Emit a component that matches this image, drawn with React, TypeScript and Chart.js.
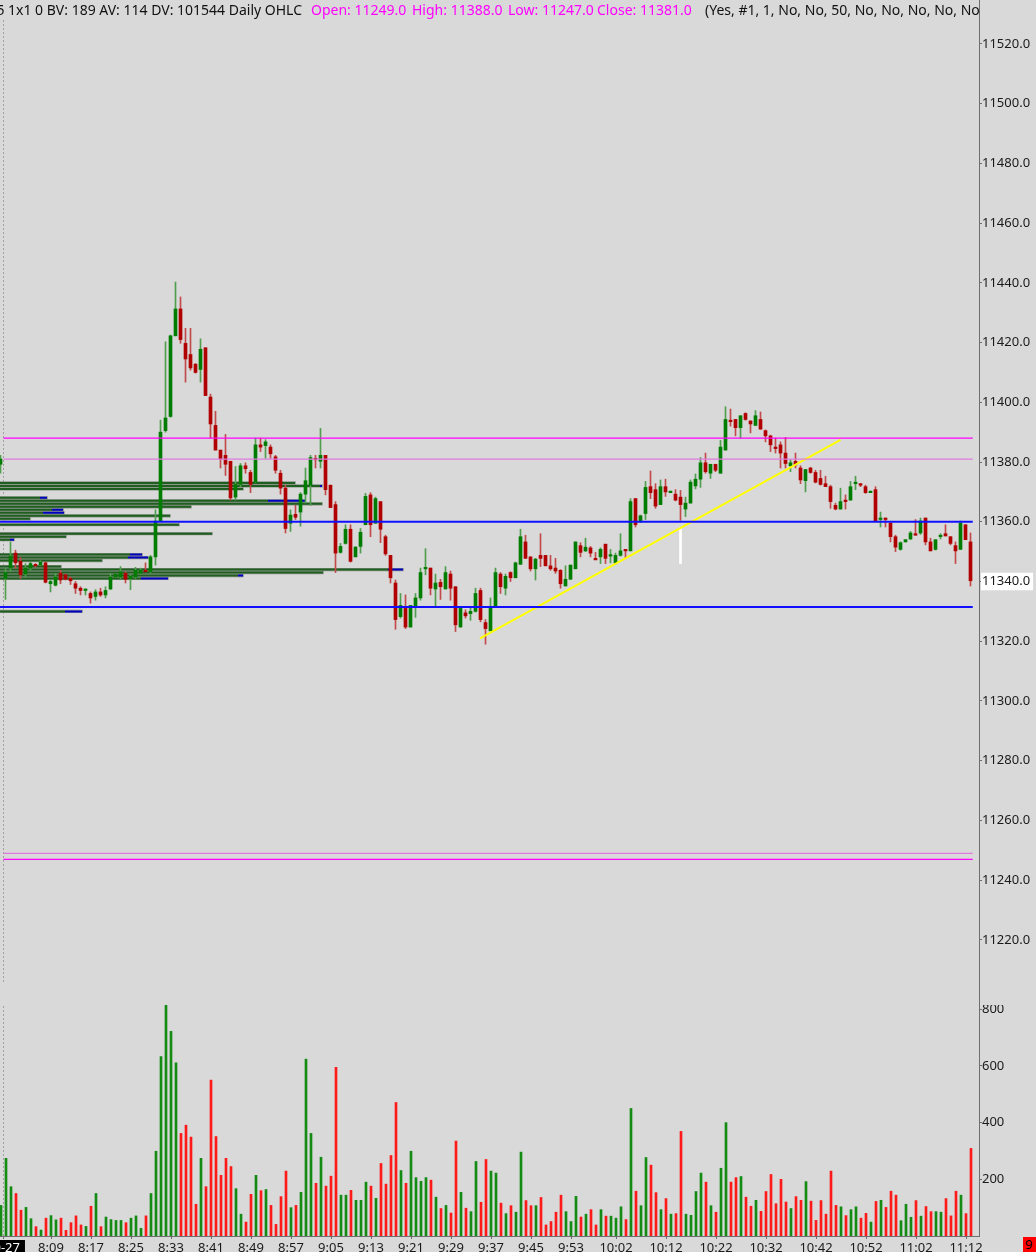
import React, { useEffect, useRef } from "react";
import { Chart, registerables } from "chart.js";

Chart.register(...registerables);

// One-minute bars. Index 0 = 7:59 (previous session), index 1 = 8:00 (10-27), last = 11:13
const opens = [
  11379.25, 11341, 11344.5, 11349.5, 11346.75, 11342.5, 11344.5, 11345.5, 11345.5, 11346.25,
  11339.25, 11338.75, 11342.75, 11342.25, 11341, 11339.25, 11337.75, 11337, 11336, 11335,
  11336.5, 11335.5, 11337.5, 11341.5, 11341.5, 11342.75, 11341, 11341.5, 11342.75, 11343.75,
  11343.25, 11348.25, 11360.25, 11390.5, 11395.25, 11422.25, 11431.25, 11419.75, 11416, 11412.75,
  11411, 11418.25, 11401.75, 11392.25, 11384, 11382.25, 11380.25, 11368.25, 11372.5, 11378.75,
  11376.5, 11373.25, 11385.75, 11385.5, 11385, 11381.75, 11376.25, 11371.25, 11359.5, 11362.5,
  11363.25, 11369.25, 11372.25, 11381, 11380.25, 11382.25, 11372.25, 11365.75, 11349.75, 11352.75,
  11357.5, 11348.25, 11351.75, 11359, 11369, 11359.5, 11366.75, 11355, 11348.75, 11339.5,
  11328.25, 11331, 11324.75, 11331.25, 11334.5, 11344.25, 11344.5, 11337.5, 11339.75, 11337.5,
  11342.5, 11338.25, 11324.75, 11329.5, 11329.25, 11330, 11337, 11326.25, 11323.5, 11331.5,
  11342.5, 11337.75, 11343, 11341.25, 11345.75, 11353.25, 11348.25, 11344.25, 11348.75, 11348.75,
  11345.25, 11344.5, 11343.75, 11338.5, 11340.75, 11344.25, 11352, 11350.25, 11351.25, 11347.75,
  11348.25, 11352.5, 11348.5, 11346.25, 11348.75, 11350.75, 11350.25, 11367.75, 11360, 11362.75,
  11371.75, 11370.75, 11365.75, 11371.75, 11369.75, 11369.25, 11368.25, 11364.25, 11366.25, 11372,
  11374.25, 11379.75, 11376.25, 11379.25, 11376.25, 11384, 11394, 11394.25, 11391.5, 11396.25,
  11393.75, 11392.25, 11394.25, 11390.5, 11388.75, 11384.75, 11385.75, 11383, 11378.75, 11380.25,
  11378, 11373.75, 11378, 11376.5, 11374.5, 11372.75, 11371.75, 11365.5, 11364.25, 11367.25,
  11367.25, 11372.75, 11372.75, 11371.75, 11369.75, 11370.75, 11360.75, 11361.25, 11359.5, 11355,
  11350.75, 11353.25, 11354.25, 11356, 11356.25, 11361.25, 11353.25, 11350.75, 11355, 11356,
  11355, 11352, 11350.75, 11359, 11353.25,
];

const highs = [
  11382.25, 11344.5, 11353.25, 11350.5, 11348, 11346, 11346.5, 11346, 11347, 11346.5,
  11340.5, 11342.75, 11343.75, 11342.5, 11341.5, 11340, 11338.25, 11337.5, 11336.5, 11337.25,
  11337.75, 11338.25, 11342.75, 11342.5, 11345, 11343.25, 11342.25, 11344.75, 11344.5, 11346.25,
  11348.75, 11364, 11394, 11420.25, 11422.5, 11440.25, 11435.25, 11424.75, 11424.75, 11413,
  11421.25, 11418.25, 11402.75, 11397, 11384, 11389.25, 11380.25, 11378.5, 11379.5, 11379.75,
  11377.25, 11388, 11388, 11387.5, 11385.75, 11382.25, 11377.25, 11372.25, 11364, 11365.5,
  11369.75, 11378, 11382.25, 11382.25, 11391.25, 11382.25, 11372.25, 11366.75, 11352.75, 11359,
  11359, 11351.75, 11357.75, 11369.5, 11369.75, 11368.25, 11366.75, 11355.5, 11348.75, 11340.5,
  11336, 11335.5, 11332, 11336, 11344.5, 11351, 11344.5, 11342.5, 11340.75, 11345,
  11343.5, 11338.25, 11331.5, 11330.5, 11331.5, 11337.75, 11337.75, 11327.25, 11334.5, 11344.5,
  11343, 11342.5, 11343.25, 11346.5, 11357.5, 11355.5, 11348.25, 11347.75, 11356, 11348.75,
  11348.75, 11347.75, 11344, 11345.25, 11345.5, 11353.25, 11353, 11354.5, 11351.75, 11349.75,
  11351.25, 11352.5, 11350.75, 11349.5, 11356, 11350.75, 11367.75, 11367.75, 11362.25, 11373.5,
  11377, 11372.75, 11374, 11374.25, 11370.25, 11370.75, 11370.5, 11368.25, 11374, 11376,
  11381.5, 11383, 11379.25, 11379.25, 11387.25, 11398.5, 11397.75, 11394.25, 11395.5, 11396.5,
  11393.75, 11397.25, 11396.75, 11390.75, 11389, 11388, 11386.75, 11388.25, 11380.75, 11383,
  11378.75, 11377.5, 11378.25, 11377.25, 11377.25, 11375.25, 11372.25, 11366.25, 11371.25, 11369,
  11373.5, 11375.25, 11372.75, 11372.25, 11370.25, 11371.75, 11363.25, 11361.25, 11360, 11355.5,
  11353.25, 11354, 11356.75, 11360.75, 11361.25, 11361.25, 11354.5, 11354, 11356, 11359,
  11355, 11353.25, 11360.25, 11359, 11356.25,
];

const lows = [
  11376.25, 11334, 11343.25, 11344.5, 11341, 11341.5, 11343.75, 11344.75, 11345.25, 11339.5,
  11336.5, 11338.5, 11339.25, 11340.5, 11339, 11336, 11335.5, 11335.5, 11332.75, 11333.75,
  11335, 11334.5, 11337.25, 11341.5, 11341, 11339.5, 11337.25, 11341, 11342.5, 11343.25,
  11342.75, 11345.5, 11360.25, 11390, 11395, 11422.25, 11419.75, 11406.75, 11410.75, 11409.75,
  11406.75, 11402.25, 11388, 11384, 11378, 11375.5, 11367.25, 11367.25, 11371.75, 11376.25,
  11369.75, 11373, 11383.5, 11381.25, 11381.25, 11376.25, 11369.25, 11356.25, 11356.75, 11360.75,
  11358.5, 11366.25, 11365.5, 11378, 11378, 11369, 11364.75, 11343, 11349.5, 11352.5,
  11346.5, 11348.25, 11349.5, 11359, 11355, 11359.5, 11353, 11348.75, 11339.5, 11324,
  11327.75, 11324.25, 11324.75, 11328, 11333.75, 11342.25, 11335.5, 11331.5, 11334, 11337.5,
  11333.75, 11323.25, 11324.75, 11327.75, 11327, 11329.75, 11326.5, 11319, 11323.5, 11331.5,
  11336, 11335.5, 11340, 11341.25, 11345.75, 11347.75, 11343.5, 11340.5, 11345, 11345.25,
  11343.75, 11342.75, 11337.75, 11338.5, 11340.75, 11344.25, 11348.25, 11350, 11348.25, 11347.25,
  11346, 11346, 11346.25, 11345.75, 11348.5, 11347.75, 11350.25, 11358.25, 11359.75, 11360.75,
  11367.75, 11364.5, 11365.75, 11368.5, 11369.75, 11367, 11360.5, 11361.75, 11366.25, 11371,
  11371.5, 11376.25, 11374.5, 11376.75, 11376.25, 11384, 11392, 11388.75, 11388, 11394,
  11389.75, 11392.25, 11391, 11386.75, 11383.5, 11383, 11378, 11378, 11376.75, 11378,
  11372.75, 11370, 11376.25, 11373, 11372.25, 11371.75, 11364.5, 11364, 11364.25, 11364.25,
  11367.25, 11370.75, 11371.75, 11369.5, 11369.75, 11360.25, 11358.25, 11358.25, 11353.25, 11350,
  11350.5, 11353.25, 11354, 11355.5, 11355.75, 11352.25, 11350.25, 11350.5, 11354.25, 11355.25,
  11352.25, 11346, 11350.75, 11354, 11338.5,
];

const closes = [
  11381, 11343, 11348.5, 11346.25, 11342.25, 11344.5, 11346, 11345.25, 11346.5, 11339.75,
  11340, 11341.5, 11340.5, 11340.75, 11340.25, 11337.75, 11337, 11337.5, 11334.5, 11336.5,
  11335.5, 11337, 11341.5, 11342.5, 11343.25, 11340.75, 11341.75, 11343.75, 11343.75, 11343.25,
  11348.25, 11360.25, 11390, 11394.75, 11422.25, 11431.25, 11421, 11414.5, 11411.5, 11410,
  11417.75, 11402.25, 11392.75, 11384, 11381, 11379.25, 11368, 11372.5, 11378.75, 11377.75,
  11372.5, 11385.75, 11385, 11386.75, 11382.75, 11377.25, 11371.25, 11357.75, 11362.25, 11361.5,
  11369.25, 11373.75, 11381.5, 11380.75, 11382.25, 11370.75, 11364.75, 11349.5, 11351.75, 11357.5,
  11346.75, 11351.5, 11356.5, 11368.5, 11359, 11367.75, 11357.5, 11349.25, 11341.25, 11327.25,
  11332, 11324.75, 11332, 11334.5, 11343, 11344.5, 11337.75, 11339.5, 11338.25, 11343,
  11337.75, 11325.5, 11331, 11328.5, 11330, 11336, 11327.25, 11324.25, 11331.25, 11343,
  11338.25, 11341.75, 11341.25, 11346.25, 11355, 11347.75, 11344.25, 11347.5, 11347.75, 11345.25,
  11344.25, 11343.5, 11339.25, 11340.75, 11345.5, 11353.25, 11349.75, 11351.5, 11349.5, 11347.25,
  11350.75, 11347.75, 11348.75, 11348.75, 11350.25, 11350.25, 11366.75, 11359, 11362, 11371.5,
  11369.75, 11365.25, 11371.75, 11370, 11370.25, 11367.25, 11365.75, 11366.25, 11373.25, 11374.25,
  11379.75, 11376.75, 11379.25, 11377.25, 11385, 11394.25, 11393.5, 11391.5, 11395.5, 11394.25,
  11392.75, 11395.5, 11391, 11388.75, 11385.75, 11384.5, 11383, 11379.5, 11379.75, 11379,
  11374, 11377.5, 11376.5, 11373.25, 11372.5, 11371.75, 11366.75, 11364.25, 11366.75, 11366.75,
  11371.75, 11373.25, 11372.25, 11369.75, 11370.25, 11360.25, 11361.25, 11360.75, 11355, 11351.5,
  11353, 11354, 11356.25, 11355.5, 11360.25, 11353.25, 11350.25, 11354, 11355.25, 11355.25,
  11352.75, 11350.25, 11359.5, 11354, 11340.25,
];

const volumes = [
  108, 274, 174, 150, 91, 101, 61, 33, 21, 63,
  72, 57, 63, 20, 47, 71, 39, 34, 105, 150,
  33, 67, 58, 55, 55, 47, 63, 71, 27, 71,
  150, 299, 633, 815, 722, 611, 362, 391, 349, 112,
  274, 174, 550, 351, 214, 274, 245, 167, 77, 49,
  147, 214, 160, 164, 108, 41, 139, 229, 100, 108,
  154, 624, 362, 186, 278, 176, 211, 595, 144, 144,
  161, 126, 126, 190, 176, 133, 256, 183, 284, 471,
  231, 186, 299, 206, 193, 206, 197, 137, 97, 108,
  81, 335, 154, 98, 86, 263, 119, 270, 229, 222,
  116, 79, 107, 84, 296, 125, 107, 107, 136, 39,
  51, 84, 144, 86, 51, 140, 67, 77, 93, 39,
  93, 70, 70, 63, 103, 58, 450, 158, 107, 277,
  250, 153, 93, 132, 77, 79, 369, 77, 73, 157,
  222, 190, 107, 84, 239, 400, 190, 206, 210, 137,
  105, 126, 87, 157, 217, 114, 200, 120, 97, 139,
  126, 192, 123, 55, 125, 77, 229, 108, 103, 72,
  93, 103, 63, 80, 49, 122, 126, 101, 158, 144,
  54, 112, 66, 125, 70, 104, 86, 86, 84, 132,
  71, 158, 144, 79, 309,
];

// Time axis: position (bar index) of each label and its text
const timeTickIndex = [0.4, 10, 18, 26, 34, 42, 50, 58, 66, 74, 82, 90, 98, 106, 114, 123, 133, 143, 153, 163, 173, 183, 193];
const timeTickLabels = ["10-27", "8:09", "8:17", "8:25", "8:33", "8:41", "8:49", "8:57", "9:05", "9:13", "9:21", "9:29", "9:37", "9:45", "9:53", "10:02", "10:12", "10:22", "10:32", "10:42", "10:52", "11:02", "11:12"];

const priceTicks = [11220, 11240, 11260, 11280, 11300, 11320, 11340, 11360, 11380, 11400, 11420, 11440, 11460, 11480, 11500, 11520];
const volumeTicks = [200, 400, 600, 800];
const currentPrice = 11340;

// Daily OHLC levels and two blue reference levels
const dailyHigh = 11388;
const dailyClose = 11381;
const dailyOpen = 11249;
const dailyLow = 11247;
const blueLevels = [11360, 11331.5];

// Yellow trend line (bar index, price)
const trendIndex = [95.9, 168];
const trendPrice = [11321, 11387.4];

// White marker
const markerIndex = 136;
const markerPrices = [11346, 11358];

// Volume-at-price profile (price row, green length and blue length in bars)
const profilePrices = [11373, 11372, 11371, 11368, 11367, 11366, 11365, 11364, 11363, 11362, 11361, 11359, 11356, 11355, 11354, 11349, 11348, 11347, 11345, 11344, 11343, 11342, 11341, 11330];
const profileGreen = [58.9, 63.9, 48.5, 7.9, 53.5, 64.3, 38.1, 10.3, 8.5, 33.9, 5.9, 35.7, 42.3, 13.1, 1.9, 25.9, 25.5, 20.3, 12.1, 77.5, 64.5, 47.5, 28.1, 12.9];
const profileBlue = [0, 64.3, 0, 9.3, 60.9, 0, 0, 12.5, 12.7, 0, 0, 0, 0, 0, 2.7, 28.3, 29.5, 0, 0, 80.5, 0, 48.5, 33.5, 16.3];

const BG = "#d9d9d9";
const AXIS = "#6e6e6e";
const LABEL = "#1a1a1a";
const FONT = "'Noto Sans', 'DejaVu Sans', sans-serif";

export default function App() {
  const topRef = useRef<HTMLCanvasElement | null>(null);
  const volRef = useRef<HTMLCanvasElement | null>(null);

  useEffect(() => {
    Chart.defaults.font.family = FONT;
    const n = opens.length;
    const idx = opens.map((_, i) => i);
    const up = idx.map((i) => closes[i] >= opens[i]);
    const lastIdx = n - 1;

    const horiz = (p: number, from: number, to: number) => [
      { x: from, y: p },
      { x: to, y: p },
    ];

    const profOutline: any[] = [];
    const profG: any[] = [];
    const profB: any[] = [];
    profilePrices.forEach((p, i) => {
      const end = Math.max(profileGreen[i], profileBlue[i]);
      profOutline.push({ x: -2, y: p }, { x: end + 0.15, y: p }, { x: end + 0.15, y: null });
      profG.push({ x: -2, y: p }, { x: profileGreen[i], y: p }, { x: profileGreen[i], y: null });
      if (profileBlue[i] > 0) {
        profB.push({ x: profileGreen[i], y: p }, { x: profileBlue[i], y: p }, { x: profileBlue[i], y: null });
      }
    });

    const lineDs = (data: any[], color: string, width: number, order: number, extra: any = {}) => ({
      type: "line" as const,
      data,
      borderColor: color,
      borderWidth: width,
      pointRadius: 0,
      fill: false,
      tension: 0,
      spanGaps: false,
      borderCapStyle: "butt",
      order,
      ...extra,
    });

    const lineEnd = lastIdx + 0.45;

    const topChart = new Chart(topRef.current!, {
      type: "bar",
      data: {
        datasets: [
          lineDs(horiz(dailyHigh, 0.6, lineEnd), "#ff00ff", 1.2, 0),
          lineDs(horiz(dailyClose, 0.6, lineEnd), "#e07ae0", 1.2, 0),
          lineDs(horiz(dailyOpen, 0.6, lineEnd), "#e07ae0", 1.2, 0),
          lineDs(horiz(dailyLow, 0.6, lineEnd), "#ff00ff", 1.2, 0),
          ...blueLevels.map((p) => lineDs(horiz(p, -2, lineEnd), "#1010ff", 2, 0)),
          lineDs(
            [
              { x: trendIndex[0], y: trendPrice[0] },
              { x: trendIndex[1], y: trendPrice[1] },
            ],
            "#ffff00",
            2,
            0
          ),
          lineDs(
            [
              { x: 0.6, y: 11528 },
              { x: 0.6, y: 11205.5 },
            ],
            "#a0a0a0",
            1,
            5,
            { borderDash: [2, 2] }
          ),
          {
            type: "bar" as const,
            data: [{ x: markerIndex, y: markerPrices }],
            backgroundColor: "#ffffff",
            barThickness: 2,
            grouped: false,
            order: 0,
          },
          {
            type: "bar" as const,
            data: idx.map((i) => ({ x: i, y: [opens[i], closes[i]] })),
            backgroundColor: idx.map((i) => (up[i] ? "#007d00" : "#b00000")),
            barThickness: 3,
            minBarLength: 1.5,
            grouped: false,
            order: 1,
          },
          {
            type: "bar" as const,
            data: idx.map((i) => ({ x: i, y: [lows[i], highs[i]] })),
            backgroundColor: idx.map((i) => (up[i] ? "#4f9f4f" : "#c24a4a")),
            barThickness: 1,
            grouped: false,
            order: 2,
          },
          lineDs(profB, "#0000c0", 2, 3),
          lineDs(profG, "#1e5e1e", 2, 3),
          lineDs(profOutline, "#8c948c", 3.2, 4),
        ] as any,
      },
      options: {
        responsive: false,
        animation: false,
        events: [],
        layout: { padding: 0, autoPadding: false } as any,
        plugins: { legend: { display: false }, tooltip: { enabled: false } },
        scales: {
          x: {
            type: "linear",
            display: false,
            offset: false,
            grid: { offset: false },
            min: -0.1,
            max: 195.7,
          },
          y: {
            type: "linear",
            position: "right",
            min: 11198.22,
            max: 11534.68,
            afterBuildTicks: (s: any) => {
              s.ticks = priceTicks.map((v) => ({ value: v }));
            },
            afterFit: (s: any) => {
              s.width = 57;
              s.paddingTop = 0;
              s.paddingBottom = 0;
            },
            grid: { drawOnChartArea: false, drawTicks: true, tickLength: 3, color: AXIS },
            border: { display: true, color: AXIS, width: 1 },
            ticks: {
              padding: 0,
              color: LABEL,
              font: { size: 13, family: FONT },
              callback: (v: any) => Number(v).toFixed(1),
              showLabelBackdrop: true,
              backdropColor: (ctx: any) =>
                ctx.tick && ctx.tick.value === currentPrice ? "#ffffff" : "rgba(0,0,0,0)",
              backdropPadding: { left: 1, right: 3, top: 1, bottom: 1 },
            } as any,
          },
        },
      } as any,
    });

    const volChart = new Chart(volRef.current!, {
      type: "bar",
      data: {
        datasets: [
          lineDs(
            [
              { x: 0.5, y: 0 },
              { x: 0.5, y: 815 },
            ],
            "#a0a0a0",
            1,
            5,
            { borderDash: [2, 2] }
          ),
          {
            type: "bar" as const,
            data: idx.map((i) => ({ x: i, y: volumes[i] })),
            backgroundColor: idx.map((i) => (up[i] ? "#148c14" : "#ff1a1a")),
            barThickness: 2,
            grouped: false,
            order: 1,
          },
        ] as any,
      },
      options: {
        responsive: false,
        animation: false,
        events: [],
        layout: { padding: 0, autoPadding: false } as any,
        plugins: { legend: { display: false }, tooltip: { enabled: false } },
        scales: {
          x: {
            type: "linear",
            position: "bottom",
            offset: false,
            min: -0.2,
            max: 195.6,
            afterBuildTicks: (s: any) => {
              s.ticks = timeTickIndex.map((v) => ({ value: v }));
            },
            afterFit: (s: any) => {
              s.height = 16;
              s.paddingLeft = 0;
              s.paddingRight = 0;
            },
            grid: { drawOnChartArea: false, drawTicks: true, tickLength: 3, color: AXIS, offset: false },
            border: { display: true, color: AXIS, width: 1 },
            ticks: {
              autoSkip: false,
              maxRotation: 0,
              minRotation: 0,
              padding: 1,
              font: { size: 13, family: FONT },
              color: (ctx: any) => (ctx.index === 0 ? "#ffffff" : LABEL),
              callback: (_v: any, i: number) => timeTickLabels[i],
              showLabelBackdrop: true,
              backdropColor: (ctx: any) => (ctx.index === 0 ? "#000000" : "rgba(0,0,0,0)"),
              backdropPadding: { left: 2, right: 5, top: 0, bottom: 2 },
            } as any,
          },
          y: {
            type: "linear",
            position: "right",
            min: 0,
            max: 815,
            afterBuildTicks: (s: any) => {
              s.ticks = volumeTicks.map((v) => ({ value: v }));
            },
            afterFit: (s: any) => {
              s.width = 57;
              s.paddingTop = 0;
              s.paddingBottom = 0;
            },
            grid: { drawOnChartArea: false, drawTicks: true, tickLength: 3, color: AXIS },
            border: { display: true, color: AXIS, width: 1 },
            ticks: {
              padding: 0,
              color: LABEL,
              font: { size: 13, family: FONT },
              callback: (v: any) => String(v),
            },
          },
        },
      } as any,
    });

    return () => {
      topChart.destroy();
      volChart.destroy();
    };
  }, []);

  const hdr: React.CSSProperties = {
    position: "absolute",
    top: 0,
    whiteSpace: "nowrap",
    fontFamily: FONT,
    fontSize: 14,
    lineHeight: "20px",
  };

  return (
    <div
      style={{
        position: "fixed",
        left: 0,
        top: 0,
        width: 1036,
        height: 1252,
        background: BG,
        overflow: "hidden",
      }}
    >
      <canvas
        ref={topRef}
        width={1036}
        height={1005}
        style={{ position: "absolute", left: 0, top: 0, display: "block" }}
      />
      <canvas
        ref={volRef}
        width={1036}
        height={247}
        style={{ position: "absolute", left: 0, top: 1005, display: "block" }}
      />
      <div style={{ position: "absolute", left: 0, top: 0, width: 979, height: 22, overflow: "hidden" }}>
        <div style={{ ...hdr, right: 979 - 302, color: "#111" }}>5 1x1 0 BV: 189 AV: 114 DV: 101544 Daily OHLC</div>
        <div style={{ ...hdr, left: 311, color: "#ff00ff" }}>Open: 11249.0</div>
        <div style={{ ...hdr, left: 412, color: "#ff00ff" }}>High: 11388.0</div>
        <div style={{ ...hdr, left: 508, color: "#ff00ff" }}>Low: 11247.0</div>
        <div style={{ ...hdr, left: 597, color: "#ff00ff" }}>Close: 11381.0</div>
        <div style={{ ...hdr, left: 705, color: "#111" }}>(Yes, #1, 1, No, No, 50, No, No, No, No, No, No, No)</div>
      </div>
      <div
        style={{
          position: "absolute",
          left: 1023,
          top: 1237,
          width: 13,
          height: 15,
          background: "#ff0000",
          color: "#000",
          fontFamily: FONT,
          fontSize: 13,
          lineHeight: "15px",
          paddingLeft: 2,
          boxSizing: "border-box",
          overflow: "hidden",
        }}
      >
        9
      </div>
    </div>
  );
}
